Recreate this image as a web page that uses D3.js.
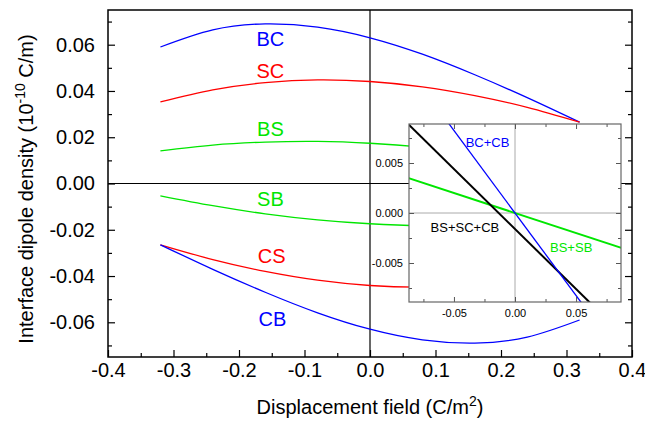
<html>
<head>
<meta charset="utf-8">
<script src="https://d3js.org/d3.v7.min.js"></script>
<style>
body { margin:0; background:#fff; }
text { font-family: "Liberation Sans", Arial, sans-serif; }
</style>
</head>
<body>
<script>
var width = 645, height = 421;
var margin = {top:10, right:13, bottom:64, left:108};
var w = width - margin.left - margin.right;
var h = height - margin.top - margin.bottom;

// main curves, sampled at these fields
var field = [-0.32, -0.24, -0.16, -0.08, 0, 0.08, 0.16, 0.24, 0.32];
var BC = [0.0590, 0.0664, 0.0690, 0.0676, 0.0630, 0.0559, 0.0470, 0.0371, 0.0265];
var SC = [0.0353, 0.0405, 0.0436, 0.0448, 0.0441, 0.0418, 0.0380, 0.0329, 0.0265];
var BS = [0.0141, 0.0166, 0.0179, 0.0182, 0.0174, 0.0157, 0.0131, 0.0096, 0.0053];
var SB = [-0.0053, -0.0096, -0.0131, -0.0157, -0.0174, -0.0182, -0.0179, -0.0166, -0.0141];
var CS = [-0.0265, -0.0329, -0.0380, -0.0418, -0.0441, -0.0448, -0.0436, -0.0405, -0.0353];
var CB = [-0.0265, -0.0371, -0.0470, -0.0559, -0.0630, -0.0676, -0.0690, -0.0664, -0.0590];

// inset sums
var sumBCCB_x = [-0.06, 0.06], sumBCCB = [0.0099, -0.0099];
var sumBSSB_x = [-0.09, 0.09], sumBSSB = [0.0036, -0.0036];
var sumAll_x = [-0.09, 0.07], sumAll = [0.0092, -0.0100];

var xTicks = [-0.4, -0.3, -0.2, -0.1, 0.0, 0.1, 0.2, 0.3, 0.4];
var yTicks = [-0.06, -0.04, -0.02, 0.00, 0.02, 0.04, 0.06];
var inXTicks = [-0.05, 0.00, 0.05];
var inYTicks = [-0.005, 0.000, 0.005];

var series = [
  {name:"BC", values:BC, color:"#0000ff", lx:-0.152, ly:0.0594},
  {name:"SC", values:SC, color:"#ff0000", lx:-0.152, ly:0.0456},
  {name:"BS", values:BS, color:"#00e600", lx:-0.152, ly:0.0206},
  {name:"SB", values:SB, color:"#00e600", lx:-0.152, ly:-0.0098},
  {name:"CS", values:CS, color:"#ff0000", lx:-0.150, ly:-0.0345},
  {name:"CB", values:CB, color:"#0000ff", lx:-0.149, ly:-0.0616}
];

function fmt(p) {
  var f = d3.format(p);
  return function(d) { return f(d).replace("\u2212", "-"); };
}

var svg = d3.select("body").append("svg")
    .attr("width", width)
    .attr("height", height);
var g = svg.append("g")
    .attr("transform", "translate(" + margin.left + "," + margin.top + ")");

var x = d3.scaleLinear().domain([-0.4, 0.4]).range([0, w]);
var y = d3.scaleLinear().domain([-0.075, 0.075]).range([h, 0]);

// zero lines
g.append("line").attr("x1", x(0)).attr("x2", x(0)).attr("y1", 0).attr("y2", h)
    .attr("stroke", "black").attr("stroke-width", 1.2);
g.append("line").attr("x1", 0).attr("x2", w).attr("y1", y(0)).attr("y2", y(0))
    .attr("stroke", "black").attr("stroke-width", 1.2);

var line = d3.line()
    .x(function(d) { return x(d[0]); })
    .y(function(d) { return y(d[1]); })
    .curve(d3.curveNatural);

series.forEach(function(s) {
  g.append("path")
    .datum(field.map(function(f, i) { return [f, s.values[i]]; }))
    .attr("d", line)
    .attr("fill", "none")
    .attr("stroke", s.color)
    .attr("stroke-width", 1.3);
  g.append("text")
    .attr("x", x(s.lx)).attr("y", y(s.ly))
    .attr("text-anchor", "middle")
    .attr("font-size", 20)
    .attr("fill", s.color)
    .text(s.name);
});

// axes (ticks inward)
var minorX = d3.range(-0.35, 0.4, 0.1);
var minorY = d3.range(-0.07, 0.075, 0.02);
var bottom = g.append("g").attr("transform", "translate(0," + h + ")");
bottom.call(d3.axisBottom(x).tickValues(xTicks).tickSize(-7).tickPadding(6)
    .tickFormat(fmt(".1f")));
bottom.append("g").call(d3.axisBottom(x).tickValues(minorX).tickSize(-4).tickFormat(""));
var left = g.append("g");
left.call(d3.axisLeft(y).tickValues(yTicks).tickSize(-7).tickPadding(13)
    .tickFormat(fmt(".2f")));
left.append("g").call(d3.axisLeft(y).tickValues(minorY).tickSize(-4).tickFormat(""));
var right = g.append("g").attr("transform", "translate(" + w + ",0)");
right.call(d3.axisRight(y).tickValues(yTicks).tickSize(-7).tickFormat(""));
right.append("g").call(d3.axisRight(y).tickValues(minorY).tickSize(-4).tickFormat(""));
g.selectAll(".domain").remove();
g.selectAll(".tick line").attr("stroke", "black").attr("stroke-width", 1.2);
g.selectAll(".tick text").attr("font-size", 20).attr("fill", "black")
    .style("font-family", "'Liberation Sans', Arial, sans-serif");

g.append("rect").attr("width", w).attr("height", h)
    .attr("fill", "none").attr("stroke", "black").attr("stroke-width", 1.5);

// axis titles
var xt = svg.append("text")
    .attr("x", margin.left + x(0)).attr("y", 414)
    .attr("text-anchor", "middle").attr("font-size", 20);
xt.append("tspan").text("Displacement field (C/m");
xt.append("tspan").attr("dy", -8).attr("font-size", 14).text("2");
xt.append("tspan").attr("dy", 8).text(")");

var yt = svg.append("text")
    .attr("transform", "translate(33," + 189 + ") rotate(-90)")
    .attr("text-anchor", "middle").attr("font-size", 20);
yt.append("tspan").text("Interface dipole density (10");
yt.append("tspan").attr("dy", -8).attr("font-size", 14).text("-10");
yt.append("tspan").attr("dy", 8).text(" C/m)");

// inset
var ix0 = 409, iy0 = 124, iw = 212, ih = 178;
var inset = svg.append("g").attr("transform", "translate(" + ix0 + "," + iy0 + ")");
var xi = d3.scaleLinear().domain([-0.0868, 0.0868]).range([0, iw]);
var yi = d3.scaleLinear().domain([-0.0089, 0.0089]).range([ih, 0]);

inset.append("rect").attr("width", iw).attr("height", ih).attr("fill", "white");
svg.append("clipPath").attr("id", "clipi")
  .append("rect").attr("width", iw).attr("height", ih);

inset.append("line").attr("x1", xi(0)).attr("x2", xi(0)).attr("y1", 0).attr("y2", ih)
    .attr("stroke", "#aaa").attr("stroke-width", 1);
inset.append("line").attr("x1", 0).attr("x2", iw).attr("y1", yi(0)).attr("y2", yi(0))
    .attr("stroke", "#aaa").attr("stroke-width", 1);

var iline = d3.line()
    .x(function(d) { return xi(d[0]); })
    .y(function(d) { return yi(d[1]); });
var inLines = [
  {xs:sumBSSB_x, ys:sumBSSB, color:"#00e600", sw:2},
  {xs:sumAll_x, ys:sumAll, color:"black", sw:2},
  {xs:sumBCCB_x, ys:sumBCCB, color:"#0000ff", sw:1.3}
];
var clipped = inset.append("g").attr("clip-path", "url(#clipi)");
inLines.forEach(function(l) {
  clipped.append("path")
    .datum(l.xs.map(function(v, i) { return [v, l.ys[i]]; }))
    .attr("d", iline)
    .attr("fill", "none").attr("stroke", l.color).attr("stroke-width", l.sw);
});

var minorXi = [-0.075, -0.025, 0.025, 0.075];
var minorYi = [-0.0075, -0.0025, 0.0025, 0.0075];
var ib = inset.append("g").attr("transform", "translate(0," + ih + ")");
ib.call(d3.axisBottom(xi).tickValues(inXTicks).tickSize(-5).tickPadding(7)
    .tickFormat(fmt(".2f")));
ib.append("g").call(d3.axisBottom(xi).tickValues(minorXi).tickSize(-3).tickFormat(""));
var it = inset.append("g");
it.call(d3.axisTop(xi).tickValues(inXTicks).tickSize(-5).tickFormat(""));
it.append("g").call(d3.axisTop(xi).tickValues(minorXi).tickSize(-3).tickFormat(""));
var il = inset.append("g");
il.call(d3.axisLeft(yi).tickValues(inYTicks).tickSize(-5).tickPadding(6)
    .tickFormat(fmt(".3f")));
il.append("g").call(d3.axisLeft(yi).tickValues(minorYi).tickSize(-3).tickFormat(""));
var ir = inset.append("g").attr("transform", "translate(" + iw + ",0)");
ir.call(d3.axisRight(yi).tickValues(inYTicks).tickSize(-5).tickFormat(""));
ir.append("g").call(d3.axisRight(yi).tickValues(minorYi).tickSize(-3).tickFormat(""));
inset.selectAll(".domain").remove();
inset.selectAll(".tick line").attr("stroke", "#555");
inset.selectAll(".tick text").attr("font-size", 11).attr("fill", "black")
    .style("font-family", "'Liberation Sans', Arial, sans-serif");
inset.append("rect").attr("width", iw).attr("height", ih)
    .attr("fill", "none").attr("stroke", "#666").attr("stroke-width", 1.2);

var inLabels = [
  {t:"BC+CB", x:-0.0225, y:0.0071, c:"#0000ff"},
  {t:"BS+SC+CB", x:-0.041, y:-0.0014, c:"black"},
  {t:"BS+SB", x:0.046, y:-0.0034, c:"#00e600"}
];
inset.selectAll(".ilab").data(inLabels).enter().append("text")
    .attr("x", function(d) { return xi(d.x); })
    .attr("y", function(d) { return yi(d.y); })
    .attr("dy", "0.35em")
    .attr("text-anchor", "middle").attr("font-size", 13)
    .attr("fill", function(d) { return d.c; })
    .text(function(d) { return d.t; });
</script>
</body>
</html>
